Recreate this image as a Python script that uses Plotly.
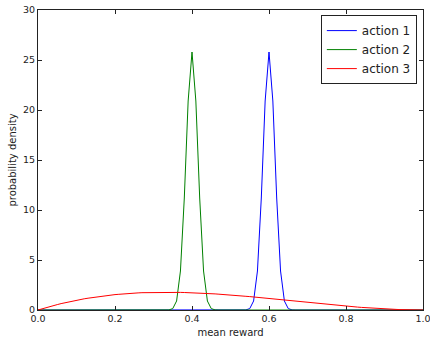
import plotly.graph_objects as go

# sampling grid of mean reward
x_vals = [
    0.00, 0.01, 0.02, 0.03, 0.04, 0.05, 0.06, 0.07, 0.08, 0.09,
    0.10, 0.11, 0.12, 0.13, 0.14, 0.15, 0.16, 0.17, 0.18, 0.19,
    0.20, 0.21, 0.22, 0.23, 0.24, 0.25, 0.26, 0.27, 0.28, 0.29,
    0.30, 0.31, 0.32, 0.33, 0.34, 0.35, 0.36, 0.37, 0.38, 0.39,
    0.40, 0.41, 0.42, 0.43, 0.44, 0.45, 0.46, 0.47, 0.48, 0.49,
    0.50, 0.51, 0.52, 0.53, 0.54, 0.55, 0.56, 0.57, 0.58, 0.59,
    0.60, 0.61, 0.62, 0.63, 0.64, 0.65, 0.66, 0.67, 0.68, 0.69,
    0.70, 0.71, 0.72, 0.73, 0.74, 0.75, 0.76, 0.77, 0.78, 0.79,
    0.80, 0.81, 0.82, 0.83, 0.84, 0.85, 0.86, 0.87, 0.88, 0.89,
    0.90, 0.91, 0.92, 0.93, 0.94, 0.95, 0.96, 0.97, 0.98, 0.99,
    1.00,
]

action1 = [
    0, 0, 0, 0, 0, 0, 0, 0, 0, 0,
    0, 0, 0, 0, 0, 0, 0, 0, 0, 0,
    0, 0, 0, 0, 0, 0, 0, 0, 0, 0,
    0, 0, 0, 0, 0, 0, 0, 0, 0, 0,
    0, 0, 0, 0, 0, 0, 0, 0, 0, 0,
    0, 0, 0, 0, 0.01, 0.14, 0.9, 3.9, 11.2, 20.9,
    25.8, 20.9, 11.2, 3.9, 0.9, 0.14, 0.01, 0, 0, 0,
    0, 0, 0, 0, 0, 0, 0, 0, 0, 0,
    0, 0, 0, 0, 0, 0, 0, 0, 0, 0,
    0, 0, 0, 0, 0, 0, 0, 0, 0, 0,
    0,
]

action2 = [
    0, 0, 0, 0, 0, 0, 0, 0, 0, 0,
    0, 0, 0, 0, 0, 0, 0, 0, 0, 0,
    0, 0, 0, 0, 0, 0, 0, 0, 0, 0,
    0, 0, 0, 0, 0.01, 0.14, 0.9, 3.9, 11.2, 20.9,
    25.8, 20.9, 11.2, 3.9, 0.9, 0.14, 0.01, 0, 0, 0,
    0, 0, 0, 0, 0, 0, 0, 0, 0, 0,
    0, 0, 0, 0, 0, 0, 0, 0, 0, 0,
    0, 0, 0, 0, 0, 0, 0, 0, 0, 0,
    0, 0, 0, 0, 0, 0, 0, 0, 0, 0,
    0, 0, 0, 0, 0, 0, 0, 0, 0, 0,
    0,
]

action3 = [
    0.00, 0.12, 0.23, 0.34, 0.44, 0.54, 0.64, 0.73, 0.81, 0.89,
    0.97, 1.05, 1.12, 1.18, 1.24, 1.30, 1.36, 1.41, 1.45, 1.50,
    1.54, 1.57, 1.61, 1.64, 1.66, 1.69, 1.71, 1.73, 1.74, 1.75,
    1.76, 1.77, 1.78, 1.78, 1.78, 1.77, 1.77, 1.76, 1.75, 1.74,
    1.73, 1.71, 1.70, 1.68, 1.66, 1.63, 1.61, 1.58, 1.56, 1.53,
    1.50, 1.47, 1.44, 1.41, 1.37, 1.34, 1.30, 1.26, 1.23, 1.19,
    1.15, 1.11, 1.07, 1.03, 1.00, 0.96, 0.92, 0.88, 0.84, 0.80,
    0.76, 0.72, 0.68, 0.64, 0.60, 0.56, 0.53, 0.49, 0.45, 0.42,
    0.38, 0.35, 0.32, 0.29, 0.26, 0.23, 0.20, 0.18, 0.15, 0.13,
    0.11, 0.09, 0.07, 0.06, 0.04, 0.03, 0.02, 0.01, 0.005, 0.001,
    0.00,
]

series_names = ["action 1", "action 2", "action 3"]
series_colors = ["#0000ff", "#008000", "#ff0000"]

x_ticks = [0.0, 0.2, 0.4, 0.6, 0.8, 1.0]
x_tick_labels = ["0.0", "0.2", "0.4", "0.6", "0.8", "1.0"]
y_ticks = [0, 5, 10, 15, 20, 25, 30]

fig = go.Figure()
for name, ys, col in zip(series_names, [action1, action2, action3], series_colors):
    fig.add_trace(go.Scatter(x=x_vals, y=ys, mode="lines", name=name,
                             line=dict(color=col, width=1)))

axis_common = dict(
    showline=True, linecolor="#222", linewidth=1, mirror="ticks",
    ticks="inside", ticklen=4, tickwidth=1, tickcolor="#222",
    showgrid=False, zeroline=False, automargin=False,
    ticklabeloverflow="allow",
    tickfont=dict(family="DejaVu Sans", size=9.5, color="#222"),
)

fig.update_layout(
    width=430, height=338,
    margin=dict(l=38, r=7, t=10, b=28),
    paper_bgcolor="white", plot_bgcolor="white",
    font=dict(family="DejaVu Sans", color="#222"),
    showlegend=True,
    legend=dict(
        x=0.984, y=0.983, xanchor="right", yanchor="top",
        bgcolor="white", bordercolor="#222", borderwidth=1,
        font=dict(family="DejaVu Sans", size=12, color="#222"),
        itemwidth=30, tracegroupgap=0,
    ),
    xaxis=dict(range=[0, 1], tickvals=x_ticks, ticktext=x_tick_labels,
               title=dict(text="mean reward", font=dict(size=10), standoff=5),
               **axis_common),
    yaxis=dict(range=[0, 30], tickvals=y_ticks,
               title=dict(text="probability density", font=dict(size=10), standoff=4),
               **axis_common),
)

fig.write_html(
    "out.html",
    config={"displayModeBar": False},
    post_script="document.body.style.margin='0';document.body.style.overflow='hidden';",
)
